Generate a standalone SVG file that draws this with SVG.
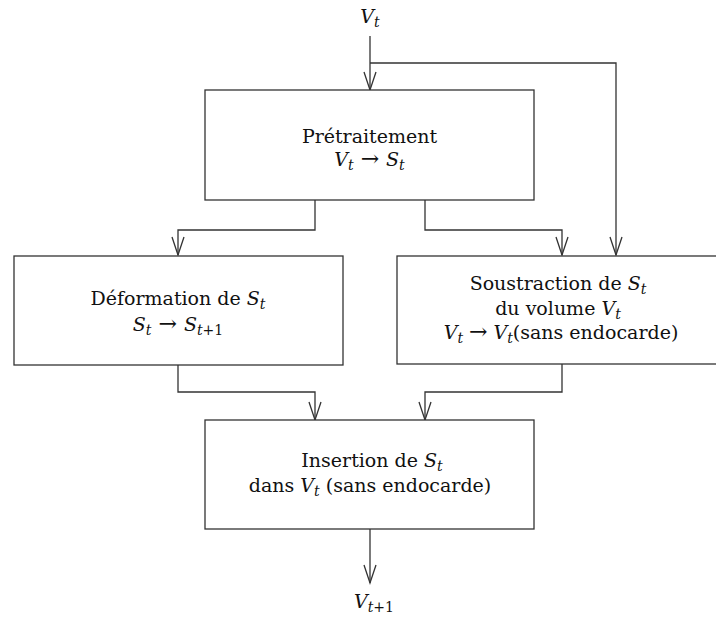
<svg xmlns="http://www.w3.org/2000/svg" width="716" height="619" viewBox="0 0 716 619">
<style>
.box{fill:#fff;stroke:#333;stroke-width:1.3}
.c{fill:none;stroke:#333;stroke-width:1.3}
text{font-family:'DejaVu Serif',serif;font-size:19px;fill:#111;text-anchor:middle}
.m{font-style:italic}
.s{font-style:italic;font-size:14px}
.n{font-size:14px}
.r{font-size:22px}
</style>
<defs>
<marker id="a" markerWidth="22" markerHeight="14" refX="19" refY="7" orient="auto" markerUnits="userSpaceOnUse" viewBox="0 0 22 14">
<path d="M1,1 L19,7 L1,13" fill="none" stroke="#333" stroke-width="1.3"/>
</marker>
</defs>
<rect width="716" height="619" fill="#fff"/>
<g id="connectors">
<path class="c" d="M370,36 V90" marker-end="url(#a)"/>
<path class="c" d="M370,63 H616 V255" marker-end="url(#a)"/>
<path class="c" d="M315,200 V230 H178 V255" marker-end="url(#a)"/>
<path class="c" d="M425,200 V230 H562 V255" marker-end="url(#a)"/>
<path class="c" d="M178,365 V392 H315 V420" marker-end="url(#a)"/>
<path class="c" d="M562,364 V392 H425 V420" marker-end="url(#a)"/>
<path class="c" d="M370,529 V583" marker-end="url(#a)"/>
</g>
<g id="in">
<text x="370" y="23"><tspan class="m">V</tspan><tspan class="s" dy="4">t</tspan></text>
</g>
<g id="pretraitement">
<rect class="box" x="205" y="90" width="329" height="110"/>
<text x="369.5" y="143">Prétraitement</text>
<text x="369.5" y="166"><tspan class="m">V</tspan><tspan class="s" dy="4">t</tspan><tspan class="r" dy="-4" dx="7">→</tspan><tspan class="m" dx="7">S</tspan><tspan class="s" dy="4">t</tspan></text>
</g>
<g id="deformation">
<rect class="box" x="14" y="256" width="329" height="109"/>
<text x="178" y="305">Déformation de <tspan class="m">S</tspan><tspan class="s" dy="4">t</tspan></text>
<text x="178" y="331"><tspan class="m">S</tspan><tspan class="s" dy="4">t</tspan><tspan class="r" dy="-4" dx="7">→</tspan><tspan class="m" dx="7">S</tspan><tspan class="s" dy="4">t</tspan><tspan class="n">+1</tspan></text>
</g>
<g id="soustraction">
<rect class="box" x="397" y="256" width="330" height="108"/>
<text x="558" y="290">Soustraction de <tspan class="m">S</tspan><tspan class="s" dy="4">t</tspan></text>
<text x="558" y="315">du volume <tspan class="m">V</tspan><tspan class="s" dy="4">t</tspan></text>
<text x="561" y="339"><tspan class="m">V</tspan><tspan class="s" dy="4">t</tspan><tspan class="r" dy="-4" dx="6">→</tspan><tspan class="m" dx="6">V</tspan><tspan class="s" dy="4">t</tspan><tspan dy="-4">(sans endocarde)</tspan></text>
</g>
<g id="insertion">
<rect class="box" x="205" y="420" width="329" height="109"/>
<text x="372" y="467">Insertion de <tspan class="m">S</tspan><tspan class="s" dy="4">t</tspan></text>
<text x="370" y="492">dans <tspan class="m">V</tspan><tspan class="s" dy="4">t</tspan><tspan dy="-4"> (sans endocarde)</tspan></text>
</g>
<g id="out">
<text x="374" y="608"><tspan class="m">V</tspan><tspan class="s" dy="4">t</tspan><tspan class="n">+1</tspan></text>
</g>
</svg>
